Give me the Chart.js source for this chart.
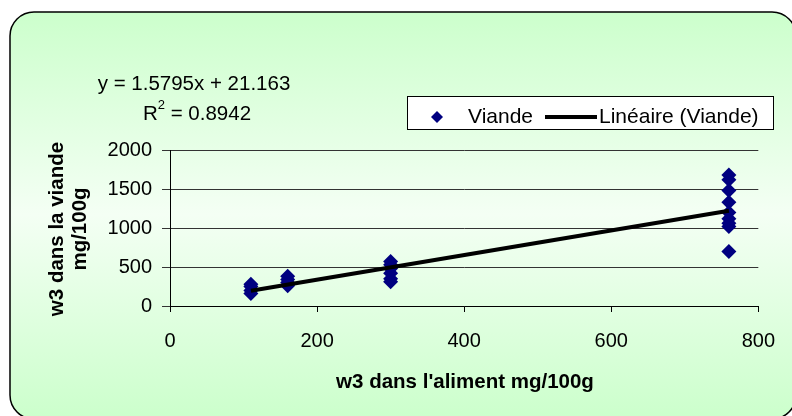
<!DOCTYPE html>
<html>
<head>
<meta charset="utf-8">
<script src="https://cdn.jsdelivr.net/npm/chart.js@4/dist/chart.umd.min.js"></script>
<style>
  html, body { margin: 0; padding: 0; background: #fff; }
  canvas { display: block; }
</style>
</head>
<body>
<canvas id="chart" width="792" height="416"></canvas>
<script>
// DATA
const feedW3 = [110, 110, 110, 110, 160, 160, 160, 160, 300, 300, 300, 300, 300, 300,
                760, 760, 760, 760, 760, 760, 760, 760, 760]
const meatW3 = [160, 200, 250, 280, 260, 300, 340, 380, 310, 350, 420, 480, 530, 570,
                1680, 1620, 1480, 1330, 1200, 1120, 1060, 1020, 700]
const xTicks = [0, 200, 400, 600, 800]
const yTicks = [0, 500, 1000, 1500, 2000]
const trendSlope = 1.5795
const trendIntercept = 21.163
const rSquared = 0.8942

const FONT = "'Liberation Sans', Arial, sans-serif"
const NAVY = '#000080'

const points = feedW3.map((x, i) => ({ x: x, y: meatW3[i] }))
const xMin = Math.min(...feedW3)
const xMax = Math.max(...feedW3)
const trend = [xMin, xMax].map(x => ({ x: x, y: trendIntercept + trendSlope * x }))


// BACKGROUND, FRAME, TEXTS
function roundRect(ctx, x, y, w, h, r) {
    ctx.beginPath()
    ctx.moveTo(x + r, y)
    ctx.arcTo(x + w, y, x + w, y + h, r)
    ctx.arcTo(x + w, y + h, x, y + h, r)
    ctx.arcTo(x, y + h, x, y, r)
    ctx.arcTo(x, y, x + w, y, r)
    ctx.closePath()
}

const decor = {
    id: 'decor',
    beforeDraw(chart) {
        const ctx = chart.ctx
        ctx.save()
        const g = ctx.createLinearGradient(0, 12, 0, 416)
        g.addColorStop(0, '#ccffcc')
        g.addColorStop(0.5, '#f4fff4')
        g.addColorStop(1, '#ccffcc')
        roundRect(ctx, 10, 12, 786, 407, 24)
        ctx.fillStyle = g
        ctx.fill()
        ctx.lineWidth = 1.5
        ctx.strokeStyle = '#000'
        ctx.stroke()
        ctx.restore()
    },
    afterDraw(chart) {
        const ctx = chart.ctx
        ctx.save()
        ctx.fillStyle = '#000'

        // equation
        ctx.font = '20.5px ' + FONT
        ctx.textAlign = 'center'
        ctx.textBaseline = 'alphabetic'
        ctx.fillText('y = ' + trendSlope + 'x + ' + trendIntercept, 194, 90)
        const rest = ' = ' + rSquared
        ctx.textAlign = 'left'
        const wR = ctx.measureText('R').width
        const wRest = ctx.measureText(rest).width
        ctx.font = '13px ' + FONT
        const wSup = ctx.measureText('2').width
        let x0 = 197 - (wR + wSup + wRest) / 2
        ctx.font = '20.5px ' + FONT
        ctx.fillText('R', x0, 120)
        ctx.font = '13px ' + FONT
        ctx.fillText('2', x0 + wR, 109)
        ctx.font = '20.5px ' + FONT
        ctx.fillText(rest, x0 + wR + wSup, 120)

        // legend
        ctx.fillStyle = '#fff'
        ctx.fillRect(407, 96, 366, 33)
        ctx.lineWidth = 1
        ctx.strokeStyle = '#000'
        ctx.strokeRect(407.5, 96.5, 366, 33)
        ctx.fillStyle = NAVY
        ctx.beginPath()
        ctx.moveTo(437, 111)
        ctx.lineTo(443, 117)
        ctx.lineTo(437, 123)
        ctx.lineTo(431, 117)
        ctx.closePath()
        ctx.fill()
        ctx.fillStyle = '#000'
        ctx.font = '21px ' + FONT
        ctx.fillText('Viande', 468, 123)
        ctx.lineWidth = 4
        ctx.beginPath()
        ctx.moveTo(545, 117)
        ctx.lineTo(597, 117)
        ctx.stroke()
        ctx.fillText('Linéaire (Viande)', 599, 123)

        // axis titles
        ctx.font = 'bold 20.5px ' + FONT
        ctx.textAlign = 'center'
        ctx.fillText("w3 dans l'aliment mg/100g", 465, 388)
        ctx.translate(63, 229)
        ctx.rotate(-Math.PI / 2)
        ctx.fillText('w3 dans la viande', 0, 0)
        ctx.fillText('mg/100g', 0, 23)
        ctx.restore()
    }
}


// CHART
const ctx = document.getElementById('chart').getContext('2d')
const chart = new Chart(ctx, {
    type: 'scatter',
    data: {
        datasets: [{
            label: 'Viande',
            data: points,
            pointStyle: 'rectRot',
            pointRadius: 7.5,
            pointBackgroundColor: NAVY,
            pointBorderColor: NAVY,
            pointBorderWidth: 0,
            order: 2
        }, {
            label: 'Linéaire (Viande)',
            type: 'line',
            data: trend,
            borderColor: '#000',
            borderWidth: 4,
            pointRadius: 0,
            fill: false,
            order: 1
        }]
    },
    options: {
        responsive: false,
        animation: false,
        devicePixelRatio: 1,
        layout: { padding: { top: 150, right: 33, left: 0, bottom: 0 } },
        plugins: {
            legend: { display: false },
            tooltip: { enabled: false }
        },
        scales: {
            x: {
                type: 'linear',
                min: xTicks[0],
                max: xTicks[xTicks.length - 1],
                afterBuildTicks: s => { s.ticks = xTicks.map(v => ({ value: v })) },
                afterFit: s => { s.height = 110 },
                ticks: { color: '#000', font: { size: 20, family: FONT }, padding: 17, maxRotation: 0,
                         callback: v => String(v) },
                grid: { drawOnChartArea: false, drawTicks: true, tickLength: 6, color: '#000' },
                border: { color: '#000', width: 1 }
            },
            y: {
                min: yTicks[0],
                max: yTicks[yTicks.length - 1],
                afterBuildTicks: s => { s.ticks = yTicks.map(v => ({ value: v })) },
                afterFit: s => { s.width = 170 },
                ticks: { color: '#000', font: { size: 20, family: FONT }, padding: 10,
                         callback: v => String(v) },
                grid: { color: '#333', tickLength: 8, drawTicks: true },
                border: { color: '#000', width: 1 }
            }
        }
    },
    plugins: [decor]
})
</script>
</body>
</html>
